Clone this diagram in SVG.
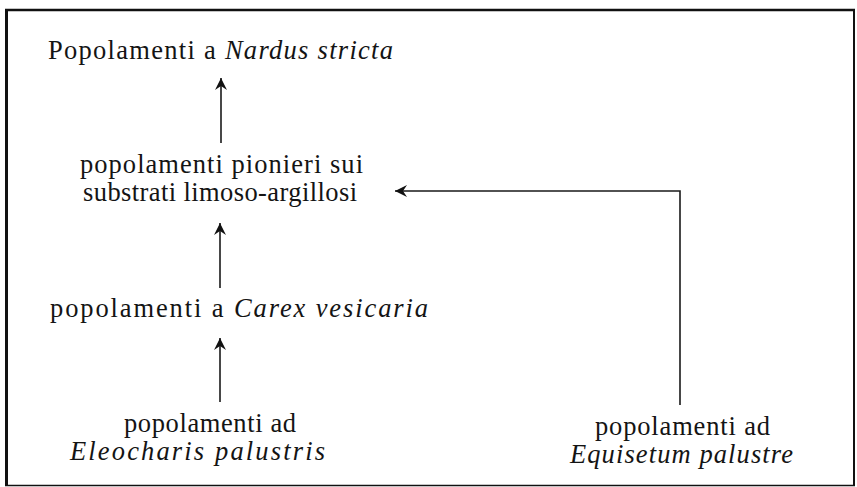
<svg xmlns="http://www.w3.org/2000/svg" width="857" height="487" viewBox="0 0 857 487">
<style>
text{font-family:"Liberation Serif","Times New Roman",serif;font-size:26.5px;fill:#141414}
.i{font-style:italic}
.c{stroke:#1a1a1a;stroke-width:1.6;fill:none}
.f{stroke:#111;fill:none}
</style>
<defs>
<marker id="ah" markerUnits="userSpaceOnUse" markerWidth="16" markerHeight="14" viewBox="-13 -7 16 14" refX="0" refY="0" orient="auto">
<path d="M0,0 L-12,-6 L-8,0 L-12,6 Z" fill="#111"/>
</marker>
</defs>
<rect width="857" height="487" fill="#fff"/>
<g id="frame">
<line class="f" x1="5" y1="10" x2="855" y2="10" stroke-width="2.5"/>
<line class="f" x1="6.5" y1="9" x2="6.5" y2="486" stroke-width="3"/>
<line class="f" x1="854" y1="9" x2="854" y2="486" stroke-width="2"/>
<line class="f" x1="5" y1="485.5" x2="855" y2="485.5" stroke-width="1.5"/>
</g>
<g id="connectors">
<line class="c" x1="221" y1="143" x2="221" y2="78" marker-end="url(#ah)"/>
<line class="c" x1="220" y1="288" x2="220" y2="223" marker-end="url(#ah)"/>
<line class="c" x1="220" y1="402" x2="220" y2="338" marker-end="url(#ah)"/>
<path class="c" d="M680,405 L680,191 L395,191" marker-end="url(#ah)"/>
</g>
<g id="nardus">
<text x="48" y="59" textLength="345" lengthAdjust="spacing">Popolamenti a <tspan class="i">Nardus stricta</tspan></text>
</g>
<g id="pionieri">
<text x="80" y="173" textLength="283" lengthAdjust="spacing">popolamenti pionieri sui</text>
<text x="83" y="201" textLength="274" lengthAdjust="spacing">substrati limoso-argillosi</text>
</g>
<g id="carex">
<text x="50" y="317" textLength="378" lengthAdjust="spacing">popolamenti a <tspan class="i">Carex vesicaria</tspan></text>
</g>
<g id="eleocharis">
<text x="124" y="432" textLength="172" lengthAdjust="spacing">popolamenti ad</text>
<text x="70" y="460" textLength="255" lengthAdjust="spacing" class="i">Eleocharis palustris</text>
</g>
<g id="equisetum">
<text x="595" y="435" textLength="175" lengthAdjust="spacing">popolamenti ad</text>
<text x="570" y="463" textLength="223" lengthAdjust="spacing" class="i">Equisetum palustre</text>
</g>
</svg>
